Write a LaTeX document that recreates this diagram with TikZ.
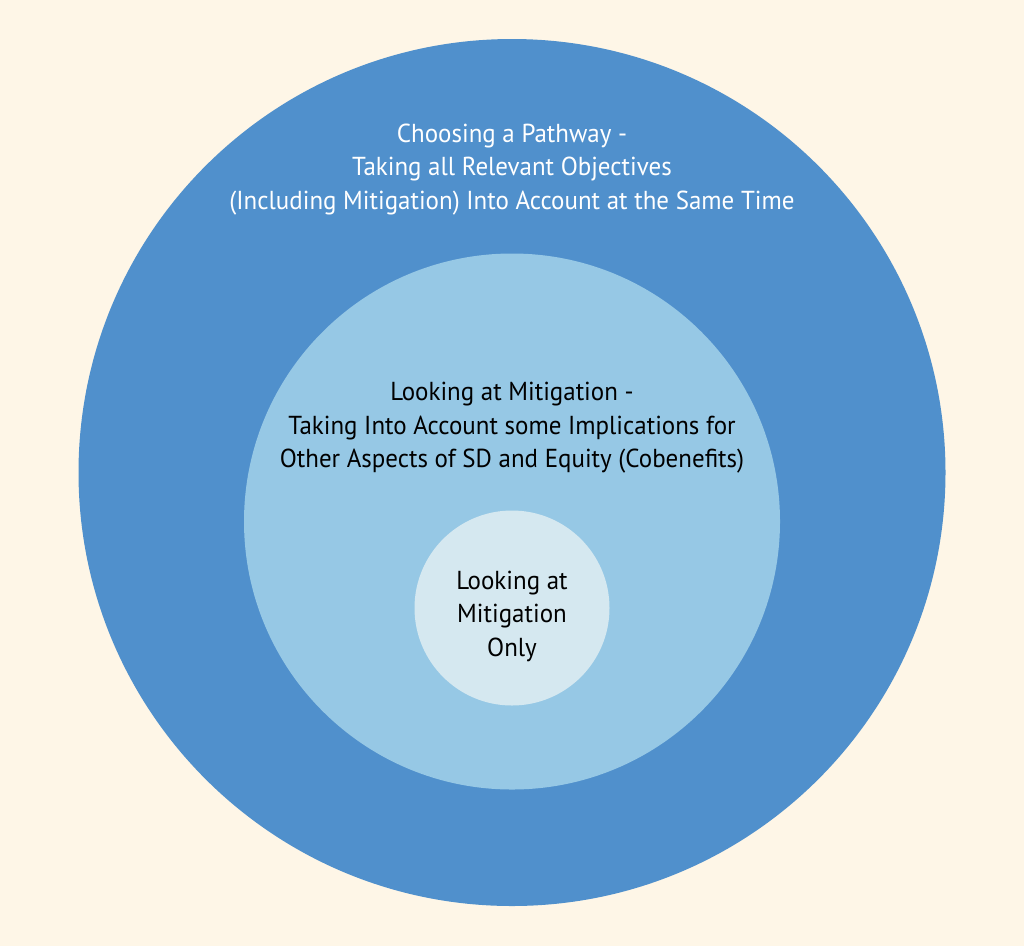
\documentclass[tikz,border=0pt]{standalone}
\usepackage{fontspec}
\setsansfont[FakeStretch=0.96]{PT Sans}
\usetikzlibrary{positioning}
\definecolor{cream}{HTML}{FEF6E7}
\definecolor{deepblue}{HTML}{5090CC}
\definecolor{midblue}{HTML}{96C8E5}
\definecolor{paleblue}{HTML}{D5E8F0}
\begin{document}
\begin{tikzpicture}[x=1pt, y=-1pt,
		ring/.style = {circle, draw=none, inner sep=0pt},
		caption/.style = {align=center, inner sep=0pt,
			font=\sffamily\fontsize{26}{33.5}\selectfont}]
	\fill[cream] (0,0) rectangle (1024,946);
	\useasboundingbox (0,0) rectangle (1024,946);
	% three nested circles
	\node[ring, fill=deepblue, minimum size=867pt] (outer) at (512,472.5) {};
	\node[ring, fill=midblue, minimum size=536pt] (middle) at (512,521.5) {};
	\node[ring, fill=paleblue, minimum size=195pt] (inner) at (512,608) {};
	% texts
	\node[caption, text=white] (outertext) at (512,169.5) {Choosing a Pathway -\\
		Taking all Relevant Objectives\\
		(Including Mitigation) Into Account at the Same Time};
	\node[caption] (middletext) at (512,428) {Looking at Mitigation -\\
		Taking Into Account some Implications for\\
		Other Aspects of SD and Equity (Cobenefits)};
	\node[caption] (innertext) at (512,616) {Looking at\\ Mitigation\\ Only};
\end{tikzpicture}
\end{document}
